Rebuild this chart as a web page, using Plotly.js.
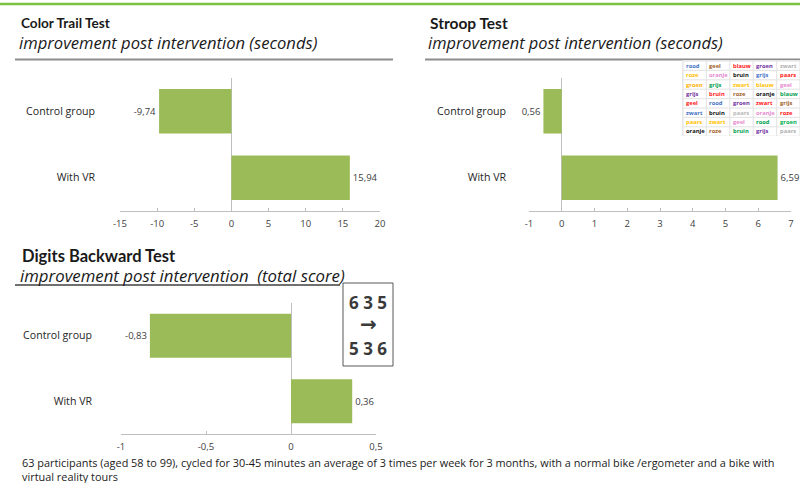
<!DOCTYPE html>
<html>
<head>
<meta charset="utf-8">
<script src="https://cdn.plot.ly/plotly-3.0.1.min.js"></script>
<style>
  html, body { margin: 0; padding: 0; background: #ffffff; }
  #chart { width: 800px; height: 483px; }
</style>
</head>
<body>
<div id="chart"></div>
<script>
// ---- data ----
const categories = ['Control group', 'With VR'];

const colorTrailValues = [-9.74, 15.94];
const colorTrailLabels = ['-9,74', '15,94'];

const stroopValues = [-0.56, 6.59];
const stroopLabels = ['0,56', '6,59'];

const digitsValues = [-0.83, 0.36];
const digitsLabels = ['-0,83', '0,36'];

const colorTrailTicks = [-15, -10, -5, 0, 5, 10, 15, 20];
const stroopTicks = [-1, 0, 1, 2, 3, 4, 5, 6, 7];
const digitsTicks = [-1, -0.5, 0, 0.5];

// Stroop word grid (word, ink colour), row by row
const stroopWords = [
  ['rood', 'geel', 'blauw', 'groen', 'zwart'],
  ['roze', 'oranje', 'bruin', 'grijs', 'paars'],
  ['groen', 'grijs', 'zwart', 'blauw', 'geel'],
  ['grijs', 'bruin', 'roze', 'oranje', 'blauw'],
  ['geel', 'rood', 'groen', 'zwart', 'grijs'],
  ['zwart', 'bruin', 'paars', 'oranje', 'roze'],
  ['paars', 'zwart', 'geel', 'rood', 'groen'],
  ['oranje', 'roze', 'bruin', 'grijs', 'paars']
];
const stroopInks = [
  ['#4472c4', '#a0632d', '#ff2020', '#7030a0', '#b0b0b0'],
  ['#ffc000', '#e58ad0', '#111111', '#4472c4', '#ff2020'],
  ['#ffb000', '#00a050', '#ffc000', '#ffc000', '#e58ad0'],
  ['#7030a0', '#ff2020', '#a0632d', '#111111', '#00a050'],
  ['#ff2020', '#4472c4', '#7030a0', '#ff2020', '#a0632d'],
  ['#4472c4', '#111111', '#b8b8b8', '#e58ad0', '#ff2020'],
  ['#ffc000', '#ffc000', '#e58ad0', '#00a050', '#00b050'],
  ['#111111', '#a0632d', '#00a050', '#7030a0', '#b0b0b0']
];

const footnote = '63 participants (aged 58 to 99), cycled for 30-45 minutes an average of 3 times per week for 3 months, with a normal bike /ergometer and a bike with<br>virtual reality tours';

// ---- layout helpers (pixel -> paper) ----
const W = 800, H = 483;
const PX = p => p / W;
const PY = p => 1 - p / H;

const TITLE_FONT = 'Lato, "Open Sans", sans-serif';
const FONT = '"Open Sans", Lato, sans-serif';
const BAR_GREEN = '#9bbb59';
const TEXT_GREY = '#404040';
const AXIS_GREY = '#bfbfbf';

// decimal comma with a plain hyphen for negatives
const fmtNum = v => String(v).replace('.', ',');

function barTrace(values, labels, xa, ya) {
  return {
    type: 'bar',
    orientation: 'h',
    x: values,
    y: categories,
    text: labels,
    textposition: 'outside',
    cliponaxis: false,
    textfont: { family: FONT, size: 9.5, color: TEXT_GREY },
    marker: { color: BAR_GREEN },
    xaxis: xa,
    yaxis: ya,
    hoverinfo: 'skip'
  };
}

const data = [
  barTrace(colorTrailValues, colorTrailLabels, 'x', 'y'),
  barTrace(stroopValues, stroopLabels, 'x2', 'y2'),
  barTrace(digitsValues, digitsLabels, 'x3', 'y3')
];

function xAxis(range, ticks, domain, anchor) {
  return {
    domain: domain,
    anchor: anchor,
    range: range,
    tickmode: 'array',
    tickvals: ticks,
    ticktext: ticks.map(fmtNum),
    showgrid: false,
    zeroline: true,
    zerolinecolor: AXIS_GREY,
    zerolinewidth: 1,
    showline: true,
    linecolor: AXIS_GREY,
    linewidth: 1,
    ticks: 'inside',
    ticklen: 3,
    tickcolor: AXIS_GREY,
    ticklabelstandoff: 4,
    tickfont: { family: FONT, size: 9.5, color: TEXT_GREY },
    fixedrange: true
  };
}

function yAxis(domain, anchor, standoff) {
  return {
    domain: domain,
    anchor: anchor,
    type: 'category',
    range: [1.5, -0.5],
    showgrid: false,
    zeroline: false,
    showline: false,
    ticks: '',
    ticklabelstandoff: standoff,
    tickfont: { family: FONT, size: 10.6, color: '#262626' },
    fixedrange: true
  };
}

const annotations = [];
const shapes = [];

function addText(text, x, y, font, opts) {
  annotations.push(Object.assign({
    text: text, xref: 'paper', yref: 'paper',
    x: PX(x), y: PY(y), xanchor: 'left', yanchor: 'middle',
    showarrow: false,
    font: Object.assign({ family: FONT, size: 10, color: '#1a1a1a' }, font)
  }, opts || {}));
}

function addLine(x0, x1, y, color, width) {
  shapes.push({
    type: 'line', xref: 'paper', yref: 'paper',
    x0: PX(x0), x1: PX(x1), y0: PY(y), y1: PY(y),
    line: { color: color, width: width }
  });
}

// green rule along the top
addLine(0, 800, 4, '#7cc242', 2.5);

// panel headings
addText('<b>Color Trail Test</b>', 19, 23, { family: TITLE_FONT, size: 13.6 });
addText('<i>improvement post intervention (seconds)</i>', 17, 43, { size: 16.6 });
addLine(15, 393, 59.5, '#8c8c8c', 2);

addText('<b>Stroop Test</b>', 428, 23, { family: TITLE_FONT, size: 15.5 });
addText('<i>improvement post intervention (seconds)</i>', 426, 43, { size: 16.4 });
addLine(425, 800, 59.5, '#8c8c8c', 2);

addText('<b>Digits Backward Test</b>', 20, 256, { family: TITLE_FONT, size: 16.5 });
addText('<i>improvement post intervention  (total score)</i>', 18, 275, { size: 16.8 });
addLine(15, 340, 285, '#404040', 1.5);

// digit reversal box
shapes.push({
  type: 'rect', xref: 'paper', yref: 'paper',
  x0: PX(343), x1: PX(393), y0: PY(283), y1: PY(366),
  line: { color: '#595959', width: 1 }, fillcolor: '#ffffff'
});
const boxFont = { family: FONT, size: 17, color: '#3a3a3a' };
addText('<b>6 3 5</b>', 368, 302, boxFont, { xanchor: 'center' });
addText('<b>\u2192</b>', 368, 324, { family: 'DejaVu Sans', size: 20, color: '#3a3a3a' }, { xanchor: 'center' });
addText('<b>5 3 6</b>', 368, 348, boxFont, { xanchor: 'center' });

// Stroop word grid
shapes.push({
  type: 'rect', xref: 'paper', yref: 'paper',
  x0: PX(682), x1: PX(801), y0: PY(60), y1: PY(136),
  line: { width: 0 }, fillcolor: '#e6e6e6'
});
const cellW = 23.4, cellH = 9.4, gx = 683, gy = 61;
stroopWords.forEach((row, r) => {
  row.forEach((word, c) => {
    const x0 = gx + c * cellW, y0 = gy + r * cellH;
    shapes.push({
      type: 'rect', xref: 'paper', yref: 'paper',
      x0: PX(x0 + 0.6), x1: PX(x0 + cellW - 0.6), y0: PY(y0 + 0.6), y1: PY(y0 + cellH - 0.6),
      line: { width: 0 }, fillcolor: '#ffffff'
    });
    addText('<b>' + word + '</b>', x0 + 1, y0 + cellH / 2,
      { size: 5.8, color: stroopInks[r][c] });
  });
});

// footnote
annotations.push({
  text: footnote, xref: 'paper', yref: 'paper',
  x: PX(21), y: PY(485), xanchor: 'left', yanchor: 'bottom', align: 'left',
  showarrow: false, borderpad: 0,
  font: { family: FONT, size: 10.9, color: '#1a1a1a' }
});

const layout = {
  width: W,
  height: H,
  margin: { l: 0, r: 0, t: 0, b: 0, pad: 0 },
  paper_bgcolor: '#ffffff',
  plot_bgcolor: 'rgba(0,0,0,0)',
  showlegend: false,
  bargap: 0.33,
  font: { family: FONT, color: TEXT_GREY },
  xaxis: xAxis([-15, 20], colorTrailTicks, [PX(120), PX(380)], 'y'),
  yaxis: yAxis([PY(211), PY(78)], 'x', 24),
  xaxis2: xAxis([-1, 7], stroopTicks, [PX(529), PX(791)], 'y2'),
  yaxis2: yAxis([PY(211), PY(78)], 'x2', 22),
  xaxis3: xAxis([-1, 0.5], digitsTicks, [PX(121), PX(376)], 'y3'),
  yaxis3: yAxis([PY(434), PY(303)], 'x3', 28),
  shapes: shapes,
  annotations: annotations
};

Plotly.newPlot('chart', data, layout, { staticPlot: true, displayModeBar: false });
</script>
</body>
</html>
